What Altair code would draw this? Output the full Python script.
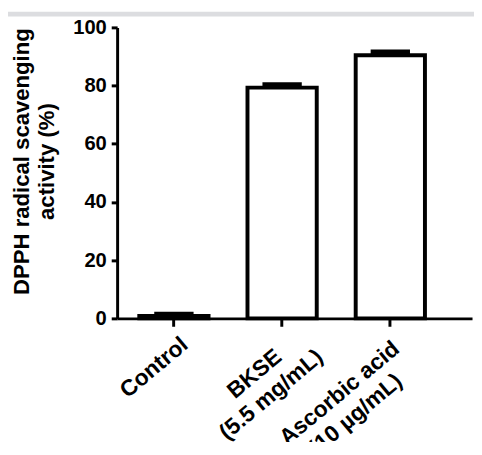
import altair as alt
import pandas as pd
import json

# ---- data ----
categories = ["Control", "BKSE (5.5 mg/mL)", "Ascorbic acid (10 µg/mL)"]
label_lines = [
    ["Control"],
    ["BKSE", "(5.5 mg/mL)"],
    ["Ascorbic acid", "(10 µg/mL)"],
]
means = [0.8, 79.3, 90.4]
errors = [0.6, 1.0, 1.2]
y_ticks = [0, 20, 40, 60, 80, 100]

df = pd.DataFrame({
    "group": categories,
    "mean": means,
    "upper": [m + e for m, e in zip(means, errors)],
})

FONT = "Liberation Sans"
NBSP = "\u00a0"
ZWSP = "\u200b"  # keeps the padding from being trimmed

# number of non-breaking spaces appended to each displayed label line, so the
# rotated, right-anchored lines sit centred as in the reference (display only)
pad_counts = [[2], [5, 0], [3, 6]]
expr_parts = []
for cat, lines, pads in zip(categories, label_lines, pad_counts):
    shown = [ln + (NBSP * p + ZWSP if p else "") for ln, p in zip(lines, pads)]
    expr_parts.append(f"datum.label == {json.dumps(cat)} ? {json.dumps(shown)}")
label_expr = " : ".join(expr_parts) + " : datum.label"

x_enc = alt.X(
    "group:N",
    sort=categories,
    scale=alt.Scale(paddingInner=0.36, paddingOuter=0.32, align=0.32),
    axis=alt.Axis(
        title=None,
        labelExpr=label_expr,
        labelAngle=-40,
        labelAlign="right",
        labelBaseline="middle",
        labelFont=FONT,
        labelFontSize=23,
        labelFontWeight="bold",
        labelColor="black",
        labelPadding=7,
        labelOffset=21,
        labelLineHeight=27,
        labelLimit=400,
        tickSize=8,
        tickWidth=3,
        tickColor="black",
        domainColor="black",
        domainWidth=3,
        zindex=1,
    ),
)

y_scale = alt.Scale(domain=[0, 100], nice=False, zero=True)

base = alt.Chart(df)

bars = base.mark_bar(fill="white", stroke="black", strokeWidth=4).encode(
    x=x_enc,
    y=alt.Y(
        "mean:Q",
        scale=y_scale,
        axis=alt.Axis(
            title=["DPPH radical scavenging", "activity (%)"],
            titleFont=FONT,
            titleFontSize=22.5,
            titleFontWeight="bold",
            titleColor="black",
            titleAngle=-90,
            titleBaseline="alphabetic",
            titleAlign="center",
            titleLineHeight=26,
            titleX=-90.5,
            titleY=136,
            values=y_ticks,
            labelFont=FONT,
            labelFontSize=20.5,
            labelFontWeight="bold",
            labelColor="black",
            labelPadding=5,
            tickSize=6,
            tickWidth=3,
            tickColor="black",
            domainColor="black",
            domainWidth=3,
            grid=False,
            zindex=1,
        ),
    ),
)

err_rule = base.mark_rule(color="black", strokeWidth=4).encode(
    x=alt.X("group:N", sort=categories),
    y=alt.Y("mean:Q", scale=y_scale),
    y2="upper:Q",
)

err_cap = base.mark_tick(color="black", thickness=5, size=40, opacity=1).encode(
    x=alt.X("group:N", sort=categories),
    y=alt.Y("upper:Q", scale=y_scale),
)

strip = alt.Chart(pd.DataFrame({"a": [0]})).mark_rect(color="#dcdde0").encode(
    x=alt.value(-111), x2=alt.value(363), y=alt.value(-16), y2=alt.value(-11)
)

chart = (
    alt.layer(strip, bars, err_rule, err_cap)
    .properties(
        width=361,
        height=296,
        autosize=alt.AutoSizeParams(type="none"),
        padding={"left": 111, "top": 16, "right": 2, "bottom": 122},
        background="white",
    )
    .configure_view(stroke=None)
)

chart.save("out.html", embed_options={"renderer": "svg", "actions": False})
